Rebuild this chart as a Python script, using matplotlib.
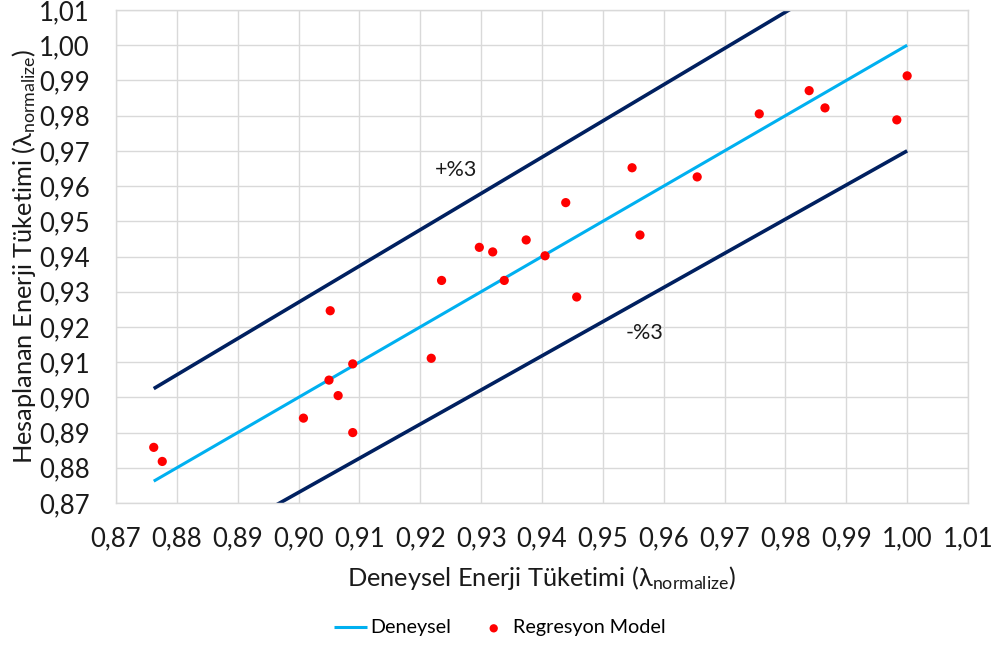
import matplotlib
matplotlib.use("Agg")
import matplotlib.pyplot as plt
import numpy as np
from matplotlib.ticker import FuncFormatter

plt.rcParams['font.family'] = ['Lato', 'Open Sans', 'DejaVu Sans']
plt.rcParams['mathtext.fontset'] = 'custom'
plt.rcParams['mathtext.rm'] = 'Lato'
plt.rcParams['mathtext.it'] = 'Lato'

# Experimental (x) vs. regression-model (y) normalized energy consumption
deneysel = [1.0000, 0.9983, 0.9839, 0.9865, 0.9757, 0.9655, 0.9548, 0.9561,
            0.9439, 0.9457, 0.9374, 0.9405, 0.9338, 0.9319, 0.9297, 0.9235,
            0.9052, 0.9218, 0.9089, 0.9050, 0.9065, 0.9008, 0.9089, 0.8762,
            0.8776]
regresyon = [0.9913, 0.9788, 0.9871, 0.9822, 0.9805, 0.9626, 0.9652, 0.9461,
             0.9553, 0.9285, 0.9447, 0.9402, 0.9332, 0.9413, 0.9426, 0.9332,
             0.9246, 0.9111, 0.9095, 0.9049, 0.9005, 0.8941, 0.8900, 0.8858,
             0.8818]

band = 0.03  # +/- 3 % tolerance band
ticks = [0.87, 0.88, 0.89, 0.90, 0.91, 0.92, 0.93, 0.94, 0.95, 0.96, 0.97,
         0.98, 0.99, 1.00, 1.01]

x_line = np.array([min(deneysel), max(deneysel)])

W, H = 999, 647
fig = plt.figure(figsize=(W / 100, H / 100), dpi=100)
ax = fig.add_axes([116 / W, 1 - 503 / H, (968 - 116) / W, (503 - 10) / H])

grid_c = '#D9D9D9'
navy = '#002060'
txt_c = '#1a1a1a'
ax.plot(x_line, x_line * (1 + band), color=navy, lw=2.6, solid_capstyle='butt', zorder=2)
ax.plot(x_line, x_line * (1 - band), color=navy, lw=2.6, solid_capstyle='butt', zorder=2)
ax.plot(x_line, x_line, color='#00B0F0', lw=2.2, solid_capstyle='butt', zorder=3,
        label='Deneysel')
ax.scatter(deneysel, regresyon, s=44, color='#FF0000', edgecolors='none', zorder=4,
           label='Regresyon Model')

ax.text(0.9259, 0.9645, '+%3', fontsize=15.5, ha='center', va='center', color=txt_c)
ax.text(0.9569, 0.9182, '-%3', fontsize=15.5, ha='center', va='center', color=txt_c)

ax.set_xlim(ticks[0], ticks[-1])
ax.set_ylim(ticks[0], ticks[-1])
ax.set_xticks(ticks)
ax.set_yticks(ticks)
fmt = FuncFormatter(lambda v, p: f'{v:.2f}'.replace('.', ','))
ax.xaxis.set_major_formatter(fmt)
ax.yaxis.set_major_formatter(fmt)
ax.grid(True, color=grid_c, lw=1.0, zorder=0)
ax.set_axisbelow(True)
for s in ax.spines.values():
    s.set_color(grid_c)
    s.set_linewidth(1.0)
ax.tick_params(axis='both', length=0, labelsize=18.5, colors=txt_c)
ax.tick_params(axis='x', pad=17)
ax.tick_params(axis='y', pad=19)

ax.set_xlabel('Deneysel Enerji Tüketimi (λ$_{\\mathrm{normalize}}$)', fontsize=18.3,
              color=txt_c)
ax.set_ylabel('Hesaplanan Enerji Tüketimi (λ$_{\\mathrm{normalize}}$)', fontsize=18.3,
              color=txt_c)
ax.xaxis.set_label_coords(0.5, -(578 - 503) / (503 - 10), transform=ax.transAxes)
ax.yaxis.set_label_coords(-(116 - 24) / (968 - 116), 0.5, transform=ax.transAxes)
ax.xaxis.label.set_va('center')
ax.yaxis.label.set_va('center')

fig.legend(loc='center', bbox_to_anchor=(500 / W, 1 - 628 / H), ncol=2,
           frameon=False, fontsize=14.2, handlelength=1.7, columnspacing=1.3,
           handletextpad=0.15, markerscale=0.9)

fig.savefig('out.png', dpi=100, facecolor='white')
